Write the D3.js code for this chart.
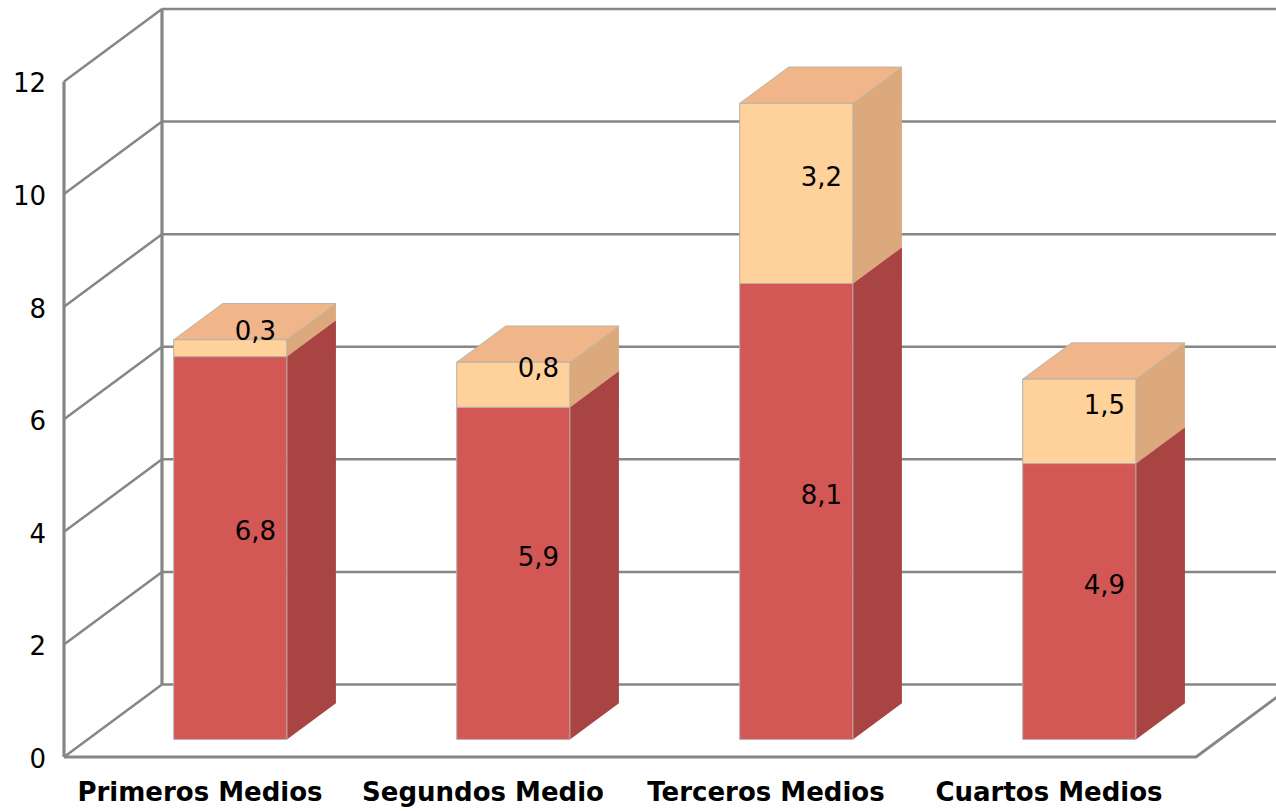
<!DOCTYPE html>
<html>
<head>
<meta charset="utf-8">
<script src="https://cdn.jsdelivr.net/npm/d3@7"></script>
<style>
html, body { margin: 0; padding: 0; background: #fff; overflow: hidden; }
text { font-family: "DejaVu Sans", sans-serif; fill: #000; }
</style>
</head>
<body>
<script>
const categories = ["Primeros Medios", "Segundos Medio", "Terceros Medios", "Cuartos Medios"];
const lowerValues = [6.8, 5.9, 8.1, 4.9];
const upperValues = [0.3, 0.8, 3.2, 1.5];
const yTicks = [0, 2, 4, 6, 8, 10, 12];
const seriesKeys = ["lower", "upper"];

function createChart() {
    const width = 1276;
    const height = 811;

    // floor front edge and how far the back wall is pushed
    const x0 = 64, x1 = 1196, y0 = 757, yTop = 81.5;
    const wallDx = 98, wallDy = -72.5;
    // bars sit between these fractions of the depth
    const barNear = 0.243, barFar = 0.743;

    const svg = d3.select("body")
        .append("svg")
        .attr("width", width)
        .attr("height", height)
        .style("display", "block");

    const y = d3.scaleLinear().domain([0, 12]).range([y0, yTop]);
    const x = d3.scaleBand()
        .domain(categories)
        .range([x0 + 1, x1 + 1])
        .paddingInner(0.6)
        .paddingOuter(0.3);
    const xLabel = d3.scaleBand().domain(categories).range([x0 - 5.5, x1 - 5.5]);

    const grid = "#868686";

    // walls and grid
    const gridG = svg.append("g").attr("fill", "none").attr("stroke", grid);
    gridG.selectAll("line.side")
        .data(yTicks)
        .enter().append("line")
        .attr("class", "side")
        .attr("x1", x0).attr("y1", d => y(d))
        .attr("x2", x0 + wallDx).attr("y2", d => y(d) + wallDy)
        .attr("stroke-width", 2.5);
    gridG.selectAll("line.back")
        .data(yTicks)
        .enter().append("line")
        .attr("class", "back")
        .attr("x1", x0 + wallDx).attr("y1", d => y(d) + wallDy)
        .attr("x2", width).attr("y2", d => y(d) + wallDy)
        .attr("stroke-width", 2.5);
    gridG.append("line")
        .attr("x1", x0).attr("x2", x0).attr("y1", y(12)).attr("y2", y(0))
        .attr("stroke-width", 3.2);
    gridG.append("line")
        .attr("x1", x0 + wallDx).attr("x2", x0 + wallDx).attr("y1", y(12) + wallDy).attr("y2", y(0) + wallDy)
        .attr("stroke-width", 3.2);
    gridG.append("path")
        .attr("d", `M${x0},${y(0)}L${x1},${y(0)}L${x1 + wallDx},${y(0) + wallDy}`)
        .attr("stroke-width", 2.8);

    // stacked bars
    const rows = categories.map((c, i) => ({ category: c, lower: lowerValues[i], upper: upperValues[i] }));
    const stacked = d3.stack().keys(seriesKeys)(rows);

    const fills = {
        lower: { front: "#d35755", side: "#a84442", top: "#d35755" },
        upper: { front: "#ffd29c", side: "#dca97d", top: "#f0b68a" }
    };

    const nearDx = wallDx * barNear, nearDy = wallDy * barNear;
    const depthDx = wallDx * (barFar - barNear), depthDy = wallDy * (barFar - barNear);
    const poly = pts => "M" + pts.map(p => p.join(",")).join("L") + "Z";

    categories.forEach((cat, i) => {
        const g = svg.append("g");
        const left = x(cat) + nearDx;
        const right = left + x.bandwidth();
        stacked.forEach(layer => {
            const d = layer[i];
            const c = fills[layer.key];
            const yb = y(d[0]) + nearDy;
            const yt = y(d[1]) + nearDy;
            g.append("path").attr("fill", c.side).attr("stroke", "none")
                .attr("d", poly([[right, yb], [right + depthDx, yb + depthDy], [right + depthDx, yt + depthDy], [right, yt]]));
            g.append("path").attr("fill", c.top).attr("stroke", layer.key === "upper" ? "#bdb5aa" : "none")
                .attr("d", poly([[left, yt], [left + depthDx, yt + depthDy], [right + depthDx, yt + depthDy], [right, yt]]));
            g.append("path").attr("fill", c.front).attr("stroke", "#b3b0ac")
                .attr("d", poly([[left, yb], [right, yb], [right, yt], [left, yt]]));
        });
        // value labels go at the middle of the bar's depth
        stacked.forEach(layer => {
            const d = layer[i];
            const v = layer.key === "lower" ? lowerValues[i] : upperValues[i];
            svg.append("text")
                .attr("x", left + x.bandwidth() / 2 + depthDx / 2 + 0.5)
                .attr("y", y((d[0] + d[1]) / 2) + nearDy + depthDy / 2)
                .attr("dy", "0.4em")
                .attr("text-anchor", "middle")
                .attr("font-size", 26)
                .text(String(v).replace(".", ","));
        });
    });

    // value axis labels
    svg.append("g").selectAll("text")
        .data(yTicks)
        .enter().append("text")
        .attr("x", 46)
        .attr("y", d => y(d))
        .attr("dy", "0.42em")
        .attr("text-anchor", "end")
        .attr("font-size", 26)
        .text(d => d);

    // category labels
    svg.append("g").selectAll("text")
        .data(categories)
        .enter().append("text")
        .attr("x", d => xLabel(d) + xLabel.bandwidth() / 2)
        .attr("y", 801)
        .attr("text-anchor", "middle")
        .attr("font-size", 26)
        .attr("font-weight", "bold")
        .text(d => d);
}

createChart();
</script>
</body>
</html>
